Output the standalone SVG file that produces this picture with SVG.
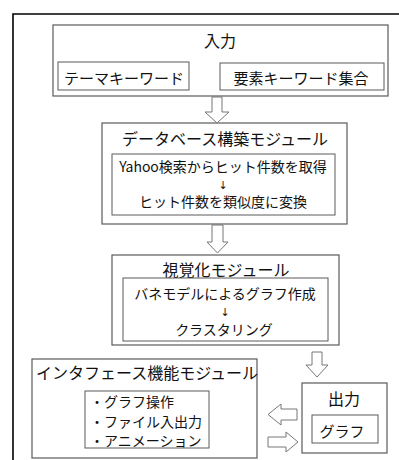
<svg xmlns="http://www.w3.org/2000/svg" width="399" height="460" viewBox="0 0 399 460">
<style>
text{font-family:"Noto Sans CJK JP","Liberation Sans",sans-serif;fill:#111;text-anchor:middle}
.t{font-size:16px}
.s{font-size:14px}
.a{font-size:11px;font-family:"DejaVu Sans",sans-serif}
.box{fill:#fff;stroke:#5a5a5a;stroke-width:1.2}
.in{fill:#fff;stroke:#5a5a5a;stroke-width:1}
.arr{fill:#fff;stroke:#777;stroke-width:1}
</style>
<rect x="0" y="0" width="399" height="460" fill="#fff"/>
<path d="M13,461 V14 H400" fill="none" stroke="#000" stroke-width="1.6"/>
<g id="input">
<rect class="box" x="53" y="25" width="335" height="71"/>
<text class="t" x="220" y="47">入力</text>
<rect class="in" x="58" y="62" width="131" height="28"/>
<text class="t" x="124" y="84" style="font-size:15px">テーマキーワード</text>
<rect class="in" x="220" y="63" width="164" height="27"/>
<text class="t" x="301" y="84" style="font-size:15px">要素キーワード集合</text>
</g>
<g id="db">
<rect class="box" x="102" y="123" width="245" height="101"/>
<text class="t" x="225" y="145">データベース構築モジュール</text>
<rect class="in" x="112" y="154" width="223" height="61"/>
<text class="s" x="223" y="172">Yahoo検索からヒット件数を取得</text>
<text class="a" x="223" y="189">↓</text>
<text class="s" x="223" y="207">ヒット件数を類似度に変換</text>
</g>
<g id="vis">
<rect class="box" x="112" y="255" width="227" height="90"/>
<text class="t" x="226" y="276">視覚化モジュール</text>
<rect class="in" x="123" y="278" width="205" height="63"/>
<text class="s" x="225" y="299">バネモデルによるグラフ作成</text>
<text class="a" x="225" y="316">↓</text>
<text class="s" x="224" y="335">クラスタリング</text>
</g>
<g id="interface">
<rect class="box" x="32" y="359" width="225" height="99"/>
<text class="t" x="147" y="379">インタフェース機能モジュール</text>
<rect class="in" x="85" y="391" width="124" height="57"/>
<text class="s" x="90" y="407" style="text-anchor:start">・グラフ操作</text>
<text class="s" x="90" y="427" style="text-anchor:start">・ファイル入出力</text>
<text class="s" x="90" y="446" style="text-anchor:start">・アニメーション</text>
</g>
<g id="output">
<rect class="box" x="302" y="383" width="85" height="70"/>
<text class="t" x="344" y="405">出力</text>
<rect class="in" x="312" y="415" width="66" height="28"/>
<text class="s" x="342" y="437" style="font-size:15px">グラフ</text>
</g>
<g id="connectors">
<path class="arr" d="M212,97 H222 V112 H229 L217,123 L205,112 H212 Z"/>
<path class="arr" d="M212,225 H223 V242 H228 L217.5,253 L207,242 H212 Z"/>
<path class="arr" d="M312,352 H322 V365 H328 L317,377 L306,365 H312 Z"/>
<path class="arr" d="M297,409 V420 H281 V425 L268,414.5 L281,404 V409 Z"/>
<path class="arr" d="M268,437 H286 V432 L298,442 L286,452 V447 H268 Z"/>
</g>
</svg>
